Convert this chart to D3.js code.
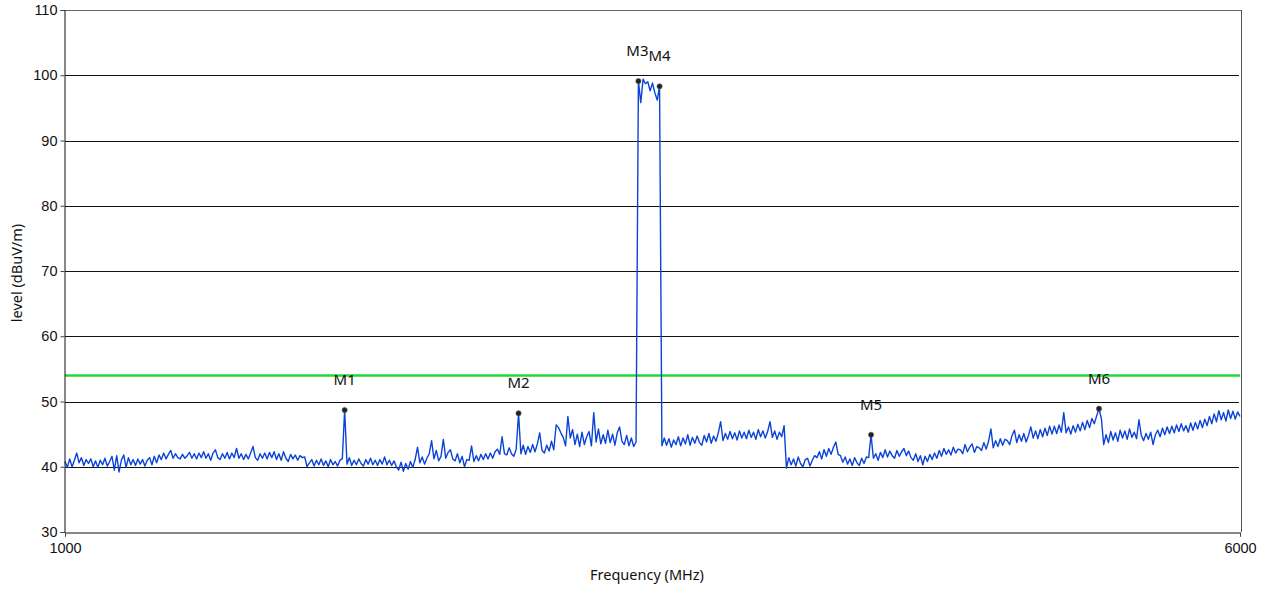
<!DOCTYPE html>
<html>
<head>
<meta charset="utf-8">
<script src="https://cdn.jsdelivr.net/npm/d3@7/dist/d3.min.js"></script>
<style>
  html, body { margin: 0; padding: 0; background: #fff; }
  svg { display: block; font-family: "Noto Sans", "Open Sans", sans-serif; }
</style>
</head>
<body>
<svg id="chart" width="1266" height="590"></svg>
<script>
// Sweep: 1000 - 6000 MHz, 10 MHz per point
const sweepStart = 1000;
const sweepStop = 6000;
const sweepStep = 10;

// Measured field strength per sweep point (dBuV/m)
const levels = [
  40.8, 39.9, 41.2, 40.0, 41.0, 42.1, 40.6, 41.4, 40.2, 41.1,
  40.5, 41.2, 40.0, 40.9, 39.9, 41.0, 40.3, 41.3, 40.1, 40.8,
  41.6, 39.5, 41.7, 39.2, 41.0, 41.8, 39.9, 41.4, 40.3, 41.1,
  40.2, 41.2, 40.4, 41.1, 40.1, 41.0, 41.4, 40.3, 41.6, 40.6,
  41.8, 41.1, 42.1, 41.2, 41.9, 42.5, 41.3, 42.0, 41.4, 41.2,
  41.9, 41.3, 41.7, 42.2, 41.3, 42.0, 41.2, 42.1, 41.4, 42.3,
  41.3, 42.0, 41.0, 42.1, 42.6, 41.4, 41.1, 42.0, 41.3, 42.2,
  41.2, 42.1, 41.4, 42.8, 41.3, 42.0, 41.1, 41.9, 41.2, 42.1,
  43.1, 41.4, 41.0, 42.0, 41.3, 42.1, 41.2, 42.2, 41.4, 42.3,
  41.1, 42.0, 41.0, 42.3, 41.3, 40.8, 41.9, 41.2, 41.8, 41.0,
  41.7, 41.4, 41.5, 40.0, 40.6, 41.1, 40.1, 41.0, 40.3, 41.2,
  40.2, 40.9, 40.0, 41.1, 40.3, 40.8, 40.1, 41.0, 41.2, 48.7,
  40.4, 41.4, 40.2, 41.0, 40.3, 41.2, 40.5, 40.1, 41.1, 40.4,
  41.3, 40.3, 41.0, 40.2, 41.1, 40.4, 41.5, 40.3, 41.0, 40.2,
  40.9, 40.0, 39.5, 40.7, 39.3, 40.5, 39.6, 40.8, 39.9, 41.1,
  43.0, 40.6, 41.5, 40.4, 41.3, 42.0, 44.0, 41.2, 42.5, 40.9,
  41.6, 44.2, 41.3, 42.2, 42.6, 41.2, 40.9, 42.0, 40.6, 41.6,
  40.0, 41.1, 41.0, 43.2, 40.8, 41.7, 40.9, 41.9, 41.1, 42.0,
  41.2, 42.1, 41.3, 42.3, 42.7, 41.9, 44.6, 42.0, 41.8, 42.9,
  42.0, 41.6, 42.7, 48.2, 42.0, 43.3, 41.9, 43.1, 42.2, 43.4,
  42.3, 43.5, 45.2, 42.5, 42.1, 43.3, 42.4, 43.9, 42.6, 46.4,
  46.0, 45.2, 44.5, 43.2, 47.7, 44.4, 45.7, 43.4, 45.0, 43.1,
  45.3, 43.4, 44.6, 45.4, 43.2, 48.3, 43.8, 45.8, 43.5, 44.9,
  43.6, 45.6, 43.7, 45.0, 43.3, 45.2, 46.1, 43.9, 43.4, 44.8,
  43.2, 44.4, 43.1, 43.8, 99.1, 95.8, 99.4, 98.7, 99.0, 97.6,
  98.8, 97.3, 96.2, 98.3, 43.2, 44.4, 43.3, 44.3, 43.0, 44.1,
  43.4, 44.6, 43.2, 44.4, 43.5, 44.9, 43.3, 44.5, 43.6, 44.7,
  43.7, 43.3, 44.8, 43.8, 45.1, 43.6, 44.7, 43.9, 45.2, 46.9,
  44.0, 45.1, 44.2, 45.4, 44.3, 45.2, 44.1, 45.5, 44.4, 45.3,
  44.3, 45.6, 44.5, 45.3, 44.2, 45.7, 44.6, 45.5, 44.4, 45.4,
  46.9, 44.5, 45.5, 44.2, 45.3, 44.6, 46.3, 39.8, 41.4, 40.3,
  41.2, 40.1, 41.5, 40.5, 40.0, 41.1, 41.3, 40.1, 41.0, 41.7,
  41.4, 42.3, 41.2, 42.6, 41.6, 42.8, 41.9, 43.0, 43.8, 41.9,
  41.7, 40.7, 41.5, 40.4, 41.2, 40.2, 41.4, 40.6, 40.2, 41.3,
  40.5, 41.5, 41.4, 44.9, 41.3, 42.0, 41.0, 42.2, 41.4, 42.6,
  41.5, 42.4, 41.7, 41.3, 42.5, 41.6, 42.3, 42.8, 41.7, 42.4,
  41.4, 41.0, 42.0, 40.8, 41.7, 40.3, 41.6, 40.8, 41.9, 41.1,
  42.1, 41.3, 42.5, 41.6, 42.8, 41.9, 42.6, 41.8, 43.0, 42.1,
  42.7, 42.6, 42.0, 43.4, 42.3, 43.0, 43.5, 42.2, 43.1, 42.9,
  42.5, 43.7, 42.7, 43.9, 45.8, 42.9, 44.0, 43.1, 44.3, 43.3,
  44.2, 44.0, 43.4, 44.8, 45.6, 43.7, 44.9, 43.9, 45.1, 43.8,
  44.8, 46.1, 44.4, 45.5, 44.3, 45.7, 44.6, 45.9, 44.8, 46.2,
  45.0, 46.2, 45.1, 46.4, 45.3, 48.3, 45.2, 46.1, 45.0, 46.3,
  45.3, 46.5, 45.5, 46.8, 45.7, 47.1, 46.0, 47.4, 46.6, 47.8,
  48.9, 47.4, 43.4, 44.9, 43.7, 45.4, 44.1, 45.2, 43.9, 45.6,
  44.4, 45.5, 44.2, 45.8, 44.5, 45.3, 44.3, 47.2, 44.8, 44.0,
  45.1, 44.2, 45.3, 43.4, 44.9, 45.6, 44.6, 45.9, 44.9, 46.1,
  45.1, 46.2, 45.2, 46.4, 45.4, 46.6, 45.5, 46.3, 45.3, 46.7,
  45.6, 46.8, 45.8, 47.1, 46.0, 47.3, 46.3, 47.7, 46.6, 48.1,
  46.9, 48.6, 47.2, 48.3, 47.0, 48.7, 47.4, 48.5, 47.3, 48.4,
  47.7
];

// Peak markers
const markerNames = ["M1", "M2", "M3", "M4", "M5", "M6"];
const markerFreqs = [2190, 2930, 3440, 3530, 4430, 5400];
const markerLevels = [48.7, 48.2, 99.1, 98.3, 44.9, 48.9];

// Limit line (dBuV/m)
const limitLevel = 54;

// Axis ticks
const yTicks = [30, 40, 50, 60, 70, 80, 90, 100, 110];
const xTicks = [1000, 6000];
const gridLevels = [40, 50, 60, 70, 80, 90, 100];

const trace = levels.map((v, i) => ({ f: sweepStart + i * sweepStep, v }));

const svg = d3.select("#chart");
const plotLeft = 65, plotRight = 1240, plotTop = 10, plotBottom = 532;

const x = d3.scaleLinear().domain([sweepStart, sweepStop]).range([plotLeft, plotRight]);
const y = d3.scaleLinear().domain([30, 110]).range([plotBottom, plotTop]);

// Horizontal grid
svg.append("g")
  .selectAll("line")
  .data(gridLevels)
  .join("line")
  .attr("x1", plotLeft).attr("x2", plotRight - 1)
  .attr("y1", d => Math.round(y(d)) + 0.5).attr("y2", d => Math.round(y(d)) + 0.5)
  .attr("stroke", "#111").attr("stroke-width", 1);

// Frame top / right
svg.append("line")
  .attr("x1", plotLeft).attr("x2", plotRight + 1)
  .attr("y1", Math.round(y(110)) + 0.5).attr("y2", Math.round(y(110)) + 0.5)
  .attr("stroke", "#666");
svg.append("line")
  .attr("x1", plotRight + 1.5).attr("x2", plotRight + 1.5)
  .attr("y1", y(110)).attr("y2", y(30))
  .attr("stroke", "#555");

// Limit line
svg.append("line")
  .attr("x1", plotLeft).attr("x2", plotRight)
  .attr("y1", y(limitLevel)).attr("y2", y(limitLevel))
  .attr("stroke", "#22d838").attr("stroke-width", 2.5);

// Trace
svg.append("path")
  .datum(trace)
  .attr("fill", "none")
  .attr("stroke", "#0b43d6")
  .attr("stroke-width", 1.4)
  .attr("stroke-linejoin", "round")
  .attr("d", d3.line().x(d => x(d.f)).y(d => y(d.v)));

// Y axis
const yAxis = svg.append("g")
  .attr("transform", `translate(${plotLeft - 0.5},0)`)
  .call(d3.axisLeft(y).tickValues(yTicks).tickSize(4).tickPadding(3).tickFormat(d3.format("d")));
yAxis.select(".domain").attr("stroke", "#111");
yAxis.selectAll(".tick line").attr("stroke", "#444");
yAxis.selectAll("text").attr("font-size", 14.5).attr("fill", "#111");

// X axis
const xAxis = svg.append("g")
  .attr("transform", `translate(0,${plotBottom + 0.5})`)
  .call(d3.axisBottom(x).tickValues(xTicks).tickSize(4).tickPadding(6).tickFormat(d3.format("d")));
xAxis.select(".domain").attr("stroke", "#111");
xAxis.selectAll(".tick line").attr("stroke", "#444");
xAxis.selectAll("text").attr("font-size", 14.5).attr("fill", "#111");

// Markers
const markers = markerNames.map((n, i) => ({ name: n, f: markerFreqs[i], v: markerLevels[i] }));
const mg = svg.append("g");
mg.selectAll("circle")
  .data(markers)
  .join("circle")
  .attr("cx", d => x(d.f)).attr("cy", d => y(d.v))
  .attr("r", 2.6)
  .attr("fill", "#222").attr("stroke", "#555").attr("stroke-width", 0.6);
mg.selectAll("text")
  .data(markers)
  .join("text")
  .attr("x", d => x(d.f) - (d.name === "M3" ? 1 : 0))
  .attr("y", d => y(d.v) - 25)
  .attr("text-anchor", "middle")
  .attr("font-size", 15)
  .attr("fill", "#111")
  .text(d => d.name);

// Axis titles
svg.append("text")
  .attr("x", 647)
  .attr("y", 580)
  .attr("text-anchor", "middle")
  .attr("font-size", 14.5)
  .attr("fill", "#111")
  .text("Frequency (MHz)");
svg.append("text")
  .attr("transform", "translate(22,273) rotate(-90)")
  .attr("text-anchor", "middle")
  .attr("font-size", 14.5)
  .attr("fill", "#111")
  .text("level (dBuV/m)");
</script>
</body>
</html>
